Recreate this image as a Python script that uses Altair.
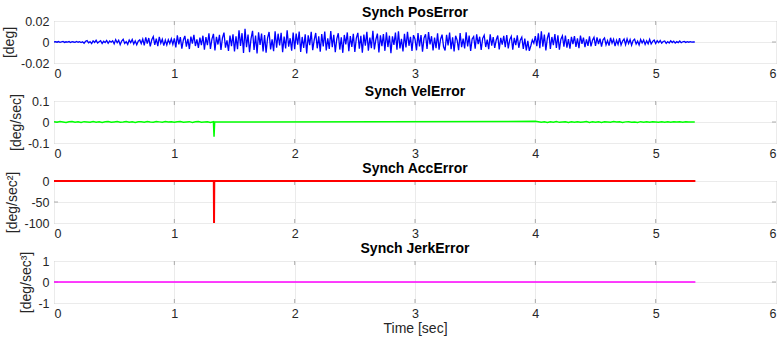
import altair as alt
import pandas as pd
import numpy as np

# ---------------- data ----------------
pos_dt = 0.0125  # sample spacing of the position trace [sec]

# Synch PosError, in milli-degrees, samples every pos_dt from t = 0
pos_error_mdeg = [
    0, 0.3, -0.2, 0.4, -0.3, 0.1, 0.5, -0.4, 0.2, -0.1, 0.4, -0.5, 0.3, 0.0, -0.4, 0.5, -0.2, 0.3, -0.5, 0.2,
    -1.2, 0.6, 1.4, -0.8, 0.3, -1.5, 1.1, -0.4, 1.6, -1.0, 0.2, 1.3, -1.4, 0.7, -0.5, 1.5, -1.2, 0.9, -0.2, 1.2,
    -1.8, 2.3, -0.7, 1.6, -2.5, 0.9, 2.6, -1.3, 0.4, -2.2, 1.9, -0.6, 2.4, -1.9, 1.1, -2.6, 0.8, 2.0, -1.5, 2.7,
    -3.1, 4.4, -1.6, 3.8, -4.2, 2.1, 5.2, -2.7, 3.3, -3.9, 4.9, -1.2, 2.6, -3.4, 1.8, -2.9, 2.2, -1.4, 3.0, -2.3,
    3.5, -5.1, 6.4, -2.2, 4.7, -6.3, 1.9, 5.8, -4.4, 3.0, -6.7, 5.2, -1.5, 6.9, -3.8, 2.4, -5.6, 4.1, -2.9, 6.0,
    -7.2, 4.6, -3.1, 8.3, -6.5, 2.7, 7.7, -8.1, 5.0, -2.4, 6.8, -7.5, 3.9, 8.9, -5.3, 1.6, -8.6, 6.2, -4.0, 7.4,
    -9.1, 5.5, -6.8, 11.2, -3.7, 8.4, -10.5, 12.6, -4.9, 7.0, -9.8, 3.2, 10.7, -7.6, 6.1, -11.0, 9.3, -2.8, 8.0, -8.9,
    6.6, -10.2, 4.0, 9.5, -7.1, 2.5, -8.7, 10.3, -5.4, 7.9, -3.3, 8.8, -9.6, 5.1, -6.2, 11.1, -4.5, 3.6, -8.3, 9.0,
    -6.9, 8.1, -2.6, 10.0, -9.4, 4.8, -5.7, 7.3, -10.9, 6.4, -3.0, 9.7, -7.8, 2.1, 8.6, -6.0, 5.3, -9.2, 7.6, -4.2,
    9.9, -8.0, 3.4, -6.6, 10.4, -5.0, 6.9, -9.7, 2.9, 8.3, -7.2, 4.5, -10.3, 6.7, -2.2, 9.1, -8.8, 5.6, -4.7, 7.8,
    -9.5, 3.8, 8.7, -6.4, 5.9, -10.1, 7.1, -3.5, 9.6, -8.2, 4.3, -5.8, 10.6, -7.0, 2.4, 8.0, -9.9, 6.3, -3.9, 7.5,
    -8.4, 9.3, -4.8, 6.0, -10.7, 5.4, -2.7, 8.9, -7.4, 10.2, -6.1, 3.1, -9.0, 7.7, -5.2, 9.8, -3.6, 4.9, -8.6, 6.5,
    2.8, -7.9, 8.5, -4.1, 6.6, -9.3, 3.7, 7.4, -6.7, 9.4, -2.3, 5.5, -8.1, 4.2, -5.9, 8.2, -7.3, 2.6, 7.0, -4.6,
    -8.0, 6.8, -3.2, 9.0, -6.9, 4.4, -9.1, 5.9, 1.8, -7.7, 8.4, -5.0, 3.3, -6.2, 9.2, -4.3, 6.1, -8.5, 2.9, 5.2,
    -6.3, 7.2, -2.1, 5.0, -7.6, 3.5, 6.5, -4.8, 2.2, -6.8, 7.3, -3.4, 4.7, -5.6, 1.9, 6.2, -7.0, 3.9, -2.5, 5.8,
    -4.9, 6.7, -6.1, 2.3, 5.4, -7.3, 4.0, -3.0, 6.4, -5.5, 1.7, 4.6, -6.6, 3.2, -7.9, 1.1, -8.4, -3.6, 2.0, -1.2,
    5.6, -3.9, 8.2, -6.0, 10.1, -4.4, 7.1, -8.0, 3.6, 9.0, -6.7, 4.8, -2.9, 7.6, -5.7, 6.3, -7.4, 2.7, 5.9, -4.5,
    6.1, -5.3, 2.8, -6.4, 4.9, -2.0, 5.7, -4.7, 3.4, -5.9, 6.2, -1.8, 4.1, -5.0, 2.5, -3.7, 5.3, -4.2, 1.6, 4.4,
    -3.8, 4.3, -1.9, 3.2, -4.4, 2.0, 3.9, -2.7, 1.4, -3.5, 4.0, -1.1, 2.6, -3.9, 1.7, -2.4, 3.6, -2.9, 0.9, 2.8,
    -2.6, 3.0, -1.5, 2.2, -3.1, 1.3, 2.7, -2.0, 0.8, -2.8, 2.4, -0.9, 1.9, -2.3, 1.1, -1.7, 2.5, -1.9, 0.6, 1.8,
    -1.4, 1.2, -0.7, 1.5, -1.1, 0.5, 1.0, -1.3, 0.4, -0.9, 1.1, -0.5, 0.8, -1.0, 0.3, -0.6, 0.9, -0.7, 0.2, 0.5,
    -0.4, 0.3, -0.2, 0.3, -0.1, 0.1, 0.0,
]

# Synch VelError, in milli-deg/sec
vel_dt = 0.025
vel_noise1_mdps = [  # t = 0 .. 1.325
    1.5, -1.0, 2.2, 0.4, -1.8, 1.1, 2.6, -0.6, 0.9, -2.1, 1.7, 0.2, -1.4, 2.0, -0.8, 1.3,
    -1.9, 0.7, 2.4, -1.1, 0.5, 1.8, -1.6, 0.1, 2.3, -0.9, 1.2, -2.0, 0.8, 1.6, -1.3, 2.7,
    0.3, -1.5, 1.9, 0.6, -1.2, 2.1, -0.4, 1.4, -1.7, 0.9, 2.5, -1.0, 0.2, 1.7, -1.8, 1.1,
    2.2, -0.7, 0.4, 1.5, -2.6, 1.0,
]
vel_spike_t = [1.33, 1.335]
vel_spike_mdps = [-70, 0]
vel_noise2_start = 4.0
vel_noise2_mdps = [  # t = 4.0 .. 5.325
    3.0, 1.2, -1.5, 0.8, -2.0, 1.4, -0.6, 1.9, -1.7, 0.3, 1.1, -2.2, 0.9, -1.0, 1.6, -1.4,
    0.5, 2.0, -1.8, 0.7, -0.9, 1.3, -2.1, 1.0, 0.2, -1.6, 1.8, -0.5, 1.2, -1.9, 0.6, 1.5,
    -1.3, 0.4, -2.0, 1.7, -0.8, 0.9, -1.5, 1.1, 0.3, -1.2, 1.4, -0.7, 0.8, -1.6, 1.0, -0.4,
    0.6, -1.1, 0.9, -0.3, 0.5, 0.0,
]

# Synch AccError [deg/sec^2]
acc_t = [0, 1.328, 1.33, 1.332, 5.33]
acc_v = [0, 0, -100, 0, 0]

# Synch JerkError [deg/sec^3]
jerk_t = [0, 5.33]
jerk_v = [0, 0]

x_ticks = [0, 1, 2, 3, 4, 5, 6]

# ---------------- tables ----------------
pos_df = pd.DataFrame({
    "t": np.arange(len(pos_error_mdeg)) * pos_dt,
    "v": np.array(pos_error_mdeg) / 1000.0,
})
vel_t = list(np.arange(len(vel_noise1_mdps)) * vel_dt) + vel_spike_t + \
    list(vel_noise2_start + np.arange(len(vel_noise2_mdps)) * vel_dt)
vel_v = list(vel_noise1_mdps) + vel_spike_mdps + list(vel_noise2_mdps)
vel_df = pd.DataFrame({"t": vel_t, "v": np.array(vel_v) / 1000.0})
acc_df = pd.DataFrame({"t": acc_t, "v": acc_v})
jerk_df = pd.DataFrame({"t": jerk_t, "v": jerk_v})

FONT = "Liberation Sans"
W, H = 722, 42
TICK_COLOR = "#8c8c8c"
TXT = "#262626"


def panel(df, title, ytitle, domain, yvals, color, sw, xtitle=None, clip=True):
    xs = alt.Scale(domain=[0, 6], nice=False, zero=False)
    ys = alt.Scale(domain=domain, nice=False, zero=False)
    common = dict(labelFont=FONT, labelFontSize=12.5, labelColor=TXT,
                  titleFont=FONT, titleFontSize=14, titleFontWeight="normal",
                  titleColor=TXT, tickSize=0, domain=False, ticks=False,
                  grid=True, gridColor="#ebebeb")
    x_axis = alt.Axis(values=x_ticks, labelExpr="'' + datum.value",
                      title=xtitle if xtitle else "", titlePadding=2,
                      labelPadding=4, **common)
    y_axis = alt.Axis(values=yvals, labelExpr="'' + datum.value",
                      title=ytitle, titlePadding=4, labelPadding=5, **common)
    line = alt.Chart(df).mark_line(color=color, strokeWidth=sw, clip=clip).encode(
        x=alt.X("t:Q", scale=xs, axis=x_axis),
        y=alt.Y("v:Q", scale=ys, axis=y_axis),
    )
    # inward tick marks (MATLAB style) on all four sides
    xt = pd.DataFrame({"t": x_ticks[1:-1]})
    yt = pd.DataFrame({"v": yvals[1:-1]})
    tick_x_bot = alt.Chart(xt).mark_tick(color=TICK_COLOR, size=4, thickness=1).encode(
        x=alt.X("t:Q", scale=xs, axis=x_axis), y=alt.value(H - 2))
    tick_x_top = alt.Chart(xt).mark_tick(color=TICK_COLOR, size=4, thickness=1).encode(
        x=alt.X("t:Q", scale=xs, axis=x_axis), y=alt.value(2))
    tick_y_l = alt.Chart(yt).mark_tick(color=TICK_COLOR, size=4, thickness=1).encode(
        y=alt.Y("v:Q", scale=ys, axis=y_axis), x=alt.value(2))
    tick_y_r = alt.Chart(yt).mark_tick(color=TICK_COLOR, size=4, thickness=1).encode(
        y=alt.Y("v:Q", scale=ys, axis=y_axis), x=alt.value(W - 2))
    return alt.layer(tick_x_bot, tick_x_top, tick_y_l, tick_y_r, line).properties(
        width=W, height=H,
        title=alt.TitleParams(title, fontSize=14, fontWeight="bold", font=FONT,
                              color="black", offset=-5),
    )


p1 = panel(pos_df, "Synch PosError", "[deg]", [-0.02, 0.02], [-0.02, 0, 0.02], "#0000ff", 1.3)
p2 = panel(vel_df, "Synch VelError", "[deg/sec]", [-0.1, 0.1], [-0.1, 0, 0.1], "#00ff00", 1.5)
p3 = panel(acc_df, "Synch AccError", "[deg/sec²]", [-100, 0], [-100, -50, 0], "#ff0000", 2,
           clip=False)
p4 = panel(jerk_df, "Synch JerkError", "[deg/sec³]", [-1, 1], [-1, 0, 1], "#ff00ff", 1.5,
           xtitle="Time [sec]")

chart = alt.vconcat(
    p1, p2, p3, p4, spacing=38, bounds="flush",
    background="white",
    padding={"left": 2, "top": 5, "right": 3, "bottom": 5},
).configure_view(
    stroke="#a6a6a6", strokeWidth=1
)

chart.save("out.html", embed_options={"renderer": "svg", "actions": False})
